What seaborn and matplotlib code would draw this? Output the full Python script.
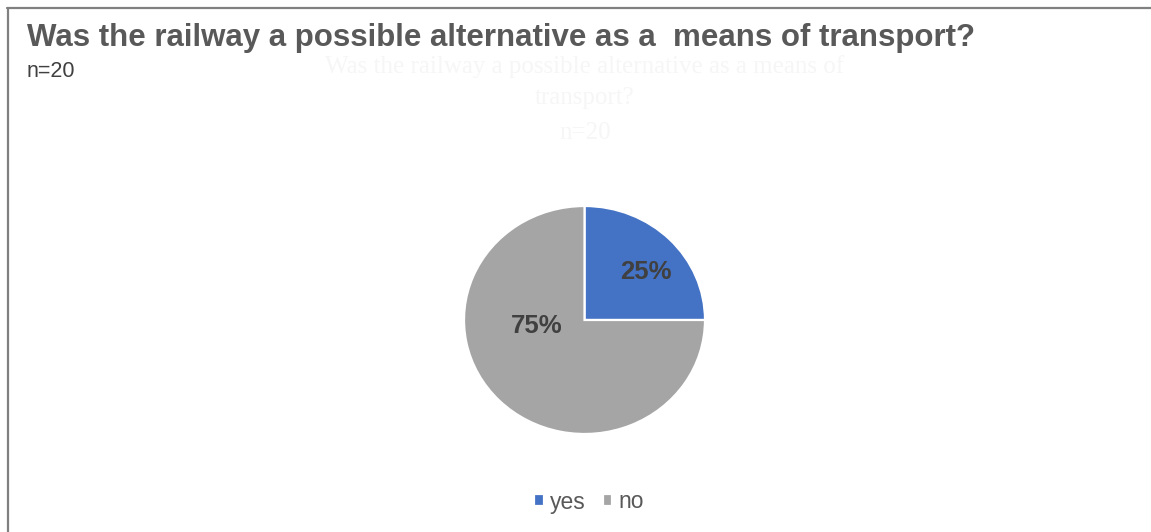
import matplotlib
matplotlib.use("Agg")
import matplotlib.pyplot as plt
import seaborn as sns
from matplotlib.lines import Line2D

# data
answers = ["yes", "no"]
shares = [25, 75]
colours = ["#4472C4", "#A5A5A5"]
title = "Was the railway a possible alternative as a  means of transport?"
subtitle = "n=20"
ghost_lines = ["Was the railway a possible alternative as a means of", "transport?", "n=20"]

sns.set_theme(style="white")
plt.rcParams["font.family"] = ["Liberation Sans", "DejaVu Sans"]

W, H = 1151, 532
fig = plt.figure(figsize=(W / 100, H / 100), dpi=100)
fig.patch.set_facecolor("white")

# faint ghost of an older title behind the chart
for txt, yy in zip(ghost_lines, [67, 98, 133]):
    fig.text(585 / W, 1 - yy / H, txt, ha="center", va="center",
             fontsize=18, color="#f6f6f6", family="Liberation Serif")

ax = fig.add_axes([464 / W, 98 / H, 241 / W, 228 / H])
wedges, texts, autotexts = ax.pie(shares, colors=colours, startangle=90,
                                  counterclock=False, autopct="%1.0f%%",
                                  pctdistance=0.6,
                                  wedgeprops=dict(edgecolor="white", linewidth=1.6),
                                  textprops=dict(fontsize=18.5, fontweight="bold",
                                                 color="#404040"))
ax.set_aspect("auto")
ax.set_xlim(-1, 1)
ax.set_ylim(-1, 1)
# Excel puts the big slice label close to the centre
autotexts[0].set_position((0.51, 0.42))
autotexts[1].set_position((-0.40, -0.05))

fig.text(27 / W, 1 - 46 / H, title, ha="left", va="baseline",
         fontsize=22.5, fontweight="bold", color="#595959")
fig.text(27 / W, 1 - 77 / H, subtitle, ha="left", va="baseline",
         fontsize=15.5, color="#404040")

fig.legend(wedges, answers, loc="center", bbox_to_anchor=(589 / W, 1 - 502 / H),
           ncol=2, frameon=False, fontsize=16.5, handlelength=0.42, handleheight=0.42,
           handletextpad=0.25, columnspacing=0.75, labelcolor="#595959",
           borderpad=0.2)

# chart frame: only the top and left edges are visible
fig.add_artist(Line2D([7 / W, 1], [1 - 8 / H, 1 - 8 / H],
                      transform=fig.transFigure, color="#808080", lw=1.6))
fig.add_artist(Line2D([8 / W, 8 / W], [0, 1 - 8 / H],
                      transform=fig.transFigure, color="#808080", lw=1.6))

fig.savefig("out.png", dpi=100)
